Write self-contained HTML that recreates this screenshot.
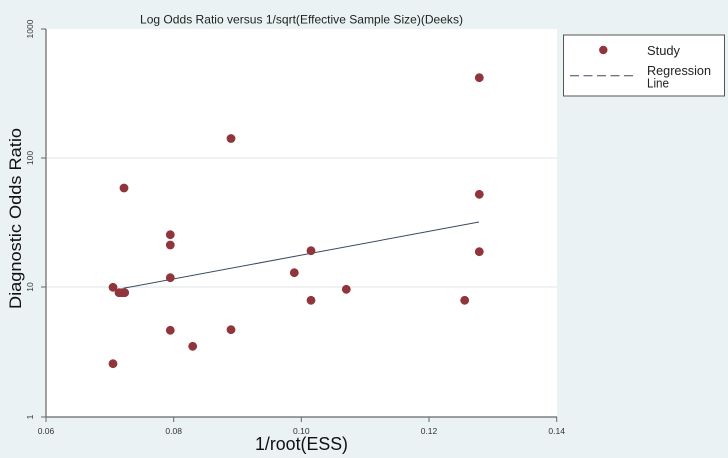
<!DOCTYPE html>
<html>
<head>
<meta charset="utf-8">
<style>
html,body{margin:0;padding:0;background:#eaf2f3;}
svg{display:block;}
text{font-family:"Liberation Sans",Arial,sans-serif;}
</style>
</head>
<body>
<svg width="728" height="458" viewBox="0 0 728 458" xmlns="http://www.w3.org/2000/svg">
  <rect x="0" y="0" width="728" height="458" fill="#eaf2f3"/>
  <!-- plot region -->
  <rect x="46" y="29" width="511" height="388" fill="#ffffff"/>
  <!-- gridlines -->
  <line x1="46" y1="158" x2="557" y2="158" stroke="#e3e9eb" stroke-width="1.2"/>
  <line x1="46" y1="287" x2="557" y2="287" stroke="#e3e9eb" stroke-width="1.2"/>
  <!-- axes -->
  <line x1="46" y1="29" x2="46" y2="417.5" stroke="#666" stroke-width="1.2"/>
  <line x1="46" y1="417" x2="557" y2="417" stroke="#666" stroke-width="1.2"/>
  <!-- ticks -->
  <g stroke="#666" stroke-width="1">
    <line x1="41" y1="29" x2="46" y2="29"/>
    <line x1="41" y1="158" x2="46" y2="158"/>
    <line x1="41" y1="287" x2="46" y2="287"/>
    <line x1="41" y1="417" x2="46" y2="417"/>
    <line x1="46" y1="417" x2="46" y2="422"/>
    <line x1="173.7" y1="417" x2="173.7" y2="422"/>
    <line x1="301.3" y1="417" x2="301.3" y2="422"/>
    <line x1="429" y1="417" x2="429" y2="422"/>
    <line x1="556.7" y1="417" x2="556.7" y2="422"/>
  </g>
  <!-- y tick labels -->
  <g font-size="8.5" fill="#333" text-anchor="middle">
    <text transform="translate(33,29) rotate(-90)">1000</text>
    <text transform="translate(33,158) rotate(-90)">100</text>
    <text transform="translate(33,287) rotate(-90)">10</text>
    <text transform="translate(33,417) rotate(-90)">1</text>
  </g>
  <!-- x tick labels -->
  <g font-size="8.5" fill="#333" text-anchor="middle">
    <text x="46" y="434">0.06</text>
    <text x="173.7" y="434">0.08</text>
    <text x="301.3" y="434">0.10</text>
    <text x="429" y="434">0.12</text>
    <text x="556.7" y="434">0.14</text>
  </g>
  <!-- titles -->
  <text x="140" y="23.5" font-size="12" fill="#222" textLength="323" lengthAdjust="spacingAndGlyphs">Log Odds Ratio versus 1/sqrt(Effective Sample Size)(Deeks)</text>
  <text x="255" y="450" font-size="18" fill="#111" textLength="93" lengthAdjust="spacingAndGlyphs">1/root(ESS)</text>
  <text transform="translate(21,309) rotate(-90)" font-size="17" fill="#111" textLength="181" lengthAdjust="spacingAndGlyphs">Diagnostic Odds Ratio</text>
  <!-- regression line -->
  <line x1="123.3" y1="288.3" x2="479" y2="222" stroke="#3a4a5e" stroke-width="1"/>
  <!-- points -->
  <g fill="#90353b">
    <circle cx="124" cy="188" r="4.4"/>
    <circle cx="170.3" cy="234.7" r="4.4"/>
    <circle cx="170.3" cy="245" r="4.4"/>
    <circle cx="170.3" cy="277.7" r="4.4"/>
    <circle cx="113" cy="287.3" r="4.4"/>
    <circle cx="119" cy="292.7" r="4.4"/>
    <circle cx="122" cy="292.7" r="4.4"/>
    <circle cx="124.7" cy="292.7" r="4.4"/>
    <circle cx="170.3" cy="330.3" r="4.4"/>
    <circle cx="231" cy="329.7" r="4.4"/>
    <circle cx="192.7" cy="346.3" r="4.4"/>
    <circle cx="113" cy="363.7" r="4.4"/>
    <circle cx="311" cy="250.7" r="4.4"/>
    <circle cx="294.3" cy="272.7" r="4.4"/>
    <circle cx="346.3" cy="289.3" r="4.4"/>
    <circle cx="311" cy="300.3" r="4.4"/>
    <circle cx="464.7" cy="300.3" r="4.4"/>
    <circle cx="479.3" cy="251.7" r="4.4"/>
    <circle cx="479.3" cy="77.7" r="4.4"/>
    <circle cx="479.3" cy="194.3" r="4.4"/>
    <circle cx="231" cy="138.5" r="4.4"/>
  </g>
  <!-- legend -->
  <rect x="563.5" y="35" width="161" height="61" fill="#ffffff" stroke="#555" stroke-width="1"/>
  <circle cx="603.3" cy="50" r="4.2" fill="#90353b"/>
  <line x1="570" y1="75.7" x2="637" y2="75.7" stroke="#3a4a5e" stroke-width="1" stroke-dasharray="9,4.5"/>
  <g font-size="12.5" fill="#222">
    <text x="647" y="55" textLength="33" lengthAdjust="spacingAndGlyphs">Study</text>
    <text x="647" y="75" textLength="64" lengthAdjust="spacingAndGlyphs">Regression</text>
    <text x="647" y="87.5" textLength="22" lengthAdjust="spacingAndGlyphs">Line</text>
  </g>
</svg>
</body>
</html>
